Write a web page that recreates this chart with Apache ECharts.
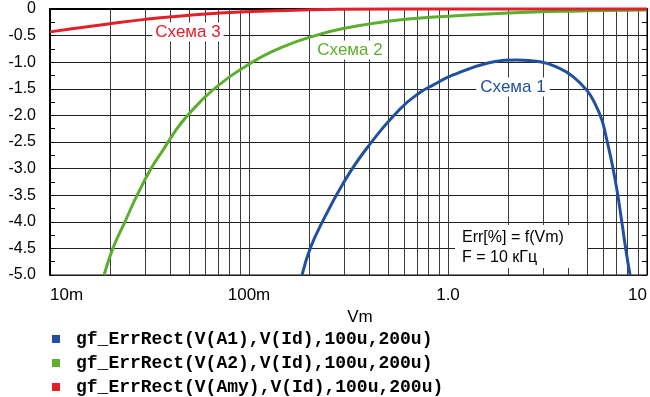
<!DOCTYPE html>
<html>
<head>
<meta charset="utf-8">
<script src="https://cdn.jsdelivr.net/npm/echarts@6/dist/echarts.min.js"></script>
<style>
  html, body { margin: 0; padding: 0; background: #fff; }
  #main { width: 650px; height: 397px; }
</style>
</head>
<body>
<div id="main"></div>
<script>
  // данные
  var legendNames = [
    'gf_ErrRect(V(A1),V(Id),100u,200u)',
    'gf_ErrRect(V(A2),V(Id),100u,200u)',
    'gf_ErrRect(V(Amy),V(Id),100u,200u)'
  ];
  var colors = ['#2150a0', '#5bae2e', '#e3202a'];

  var blueX = [0.1847, 0.203, 0.233, 0.297, 0.383, 0.574, 0.723, 0.841, 1.06, 1.57, 2.22, 2.90, 3.66, 4.25, 4.99, 5.48, 5.94, 6.29, 6.67, 7.07, 7.49, 7.84, 8.22];
  var blueY = [-5.0, -4.5, -4.01, -3.28, -2.66, -1.88, -1.57, -1.43, -1.24, -1.02, -0.96, -0.99, -1.12, -1.27, -1.53, -1.78, -2.09, -2.47, -2.90, -3.41, -4.03, -4.54, -5.0];

  var greenX = [0.0187, 0.0207, 0.0238, 0.0274, 0.0322, 0.037, 0.0425, 0.0494, 0.0659, 0.1047, 0.148, 0.219, 0.286, 0.51, 0.91, 2.0, 4.2, 10];
  var greenY = [-5.0, -4.5, -4.0, -3.5, -3.0, -2.65, -2.3, -1.99, -1.52, -0.99, -0.71, -0.49, -0.38, -0.225, -0.145, -0.075, -0.04, -0.02];

  var redX = [0.01, 0.0138, 0.0196, 0.030, 0.0535, 0.0955, 0.17, 0.28, 1, 10];
  var redY = [-0.43, -0.357, -0.28, -0.195, -0.107, -0.05, -0.025, -0.005, 0, 0];

  // вертикальная сетка по логарифмической оси
  var gridX = [0.02, 0.03, 0.04, 0.05, 0.06, 0.07, 0.08, 0.09,
               0.2, 0.3, 0.4, 0.5, 0.6, 0.7, 0.8, 0.9,
               2, 3, 4, 5, 6, 7, 8, 9];

  function pairs(xs, ys) {
    return xs.map(function (x, i) { return [x, ys[i]]; });
  }

  function xLabel(v) {
    if (Math.abs(v - 0.01) < 1e-6) return '10m';
    if (Math.abs(v - 0.1) < 1e-5) return '100m';
    if (Math.abs(v - 1) < 1e-4) return '1.0';
    if (Math.abs(v - 10) < 1e-3) return '10';
    return '';
  }

  var font = 'Liberation Sans, Arial, sans-serif';

  var myChart = echarts.init(document.getElementById('main'));

  var lineSeries = function (idx, data) {
    return {
      name: legendNames[idx],
      type: 'line',
      data: data,
      smooth: 0.45,
      showSymbol: false,
      clip: false,
      lineStyle: { color: colors[idx], width: 3 },
      itemStyle: { color: colors[idx] },
      animation: false
    };
  };

  var s1 = lineSeries(0, pairs(blueX, blueY));
  s1.markLine = {
    silent: true,
    z: 1,
    symbol: 'none',
    label: { show: false },
    lineStyle: { color: '#3a3a3a', width: 1, type: 'solid' },
    data: gridX.map(function (v) { return { xAxis: v }; }),
    animation: false
  };

  var option = {
    animation: false,
    grid: {
      left: 50, right: 3, top: 9, bottom: 122,
      show: true, borderColor: '#000', borderWidth: 1
    },
    legend: {
      orient: 'vertical',
      left: 52, top: 330,
      height: 80,
      padding: 0,
      itemWidth: 8, itemHeight: 8,
      itemGap: 6,
      icon: 'rect',
      data: legendNames,
      textStyle: {
        fontFamily: 'Liberation Mono, Courier New, monospace',
        fontWeight: 'bold',
        fontSize: 18,
        lineHeight: 16,
        color: '#000',
        padding: [0, 0, 0, 11]
      }
    },
    xAxis: {
      type: 'log',
      logBase: 10,
      min: 0.01,
      max: 10,
      name: 'Vm',
      nameLocation: 'middle',
      nameGap: 31,
      nameTextStyle: { fontFamily: font, fontSize: 17, color: '#000', padding: [0, 0, 0, 23] },
      axisLine: { lineStyle: { color: '#000', width: 2 } },
      axisTick: { show: true, length: 5, lineStyle: { color: '#000' } },
      axisLabel: {
        formatter: xLabel,
        fontFamily: font, fontSize: 17, color: '#000',
        margin: 12,
        alignMinLabel: 'left',
        alignMaxLabel: 'right'
      },
      splitLine: { show: true, lineStyle: { color: '#3a3a3a', width: 1 } }
    },
    yAxis: [{
      type: 'value',
      min: -5, max: 0, interval: 0.5,
      axisLine: { show: true, lineStyle: { color: '#000', width: 2 } },
      axisTick: { show: true, inside: true, length: 5, lineStyle: { color: '#000' } },
      minorTick: { show: true, splitNumber: 2, length: 5, lineStyle: { color: '#000' } },
      axisLabel: {
        formatter: function (v) { return v === 0 ? '0' : v.toFixed(1); },
        fontFamily: font, fontSize: 16, color: '#000', margin: 14
      },
      splitLine: { show: true, lineStyle: { color: '#222', width: 1 } }
    }, {
      type: 'value',
      position: 'right',
      min: -5, max: 0, interval: 0.5,
      axisLine: { show: true, lineStyle: { color: '#000', width: 1 } },
      axisTick: { show: true, inside: true, length: 5, lineStyle: { color: '#000' } },
      minorTick: { show: true, splitNumber: 2, length: 5, lineStyle: { color: '#000' } },
      axisLabel: { show: false },
      splitLine: { show: false }
    }],
    graphic: [
      { type: 'text', z: 100, x: 188, y: 32,
        style: { text: 'Схема 3', font: '17px ' + font, fill: colors[2], align: 'center', verticalAlign: 'middle',
                 backgroundColor: '#fff', padding: [1, 3] } },
      { type: 'text', z: 100, x: 350, y: 50,
        style: { text: 'Схема 2', font: '17px ' + font, fill: colors[1], align: 'center', verticalAlign: 'middle',
                 backgroundColor: '#fff', padding: [1, 3] } },
      { type: 'text', z: 100, x: 513, y: 87,
        style: { text: 'Схема 1', font: '17px ' + font, fill: colors[0], align: 'center', verticalAlign: 'middle',
                 backgroundColor: '#fff', padding: [1, 4] } },
      { type: 'rect', z: 100, shape: { x: 455, y: 225, width: 132, height: 43 },
        style: { fill: '#fff' } },
      { type: 'text', z: 101, x: 462, y: 238,
        style: { text: 'Err[%] = f(Vm)', font: '16px ' + font, fill: '#000', verticalAlign: 'middle' } },
      { type: 'text', z: 101, x: 462, y: 258,
        style: { text: 'F = 10 кГц', font: '16px ' + font, fill: '#000', verticalAlign: 'middle' } }
    ],
    series: [
      s1,
      lineSeries(1, pairs(greenX, greenY)),
      lineSeries(2, pairs(redX, redY))
    ]
  };

  myChart.setOption(option);
</script>
</body>
</html>
